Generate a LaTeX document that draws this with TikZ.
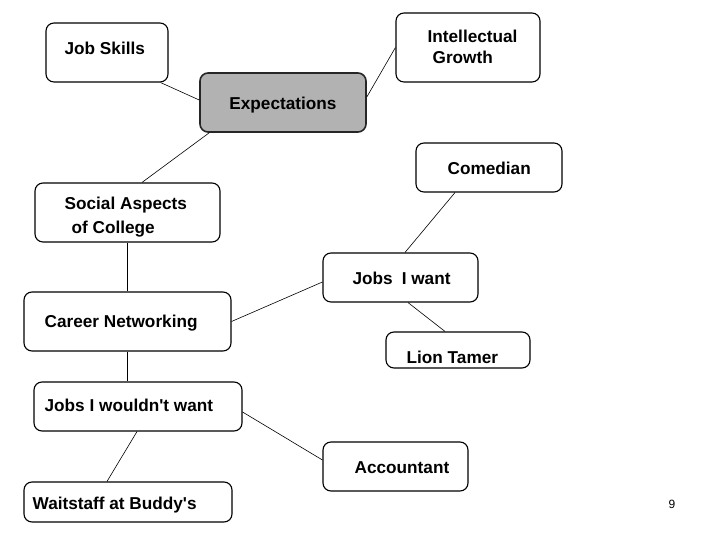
\documentclass[tikz,border=0pt]{standalone}
\usepackage{fontspec}
\setmainfont{Liberation Sans}
\usetikzlibrary{calc}
\begin{document}
\begin{tikzpicture}[x=1pt,y=1pt,
  box/.style={draw=black, line width=1.1pt, rounded corners=8pt, fill=white, inner sep=0pt},
  txt/.style={anchor=west, inner sep=0pt, align=left, font=\fontsize{17.2}{21}\selectfont\bfseries},
  link/.style={draw=black, line width=0.6pt}]
\useasboundingbox (0,0) rectangle (720,540);
% boxes (centre, width, height)
\node[box, minimum width=122, minimum height=59,
  label={[txt,xshift=19,yshift=4.5]west:Job Skills}] (js) at (107,487.5) {};
\node[box, minimum width=144, minimum height=69,
  label={[txt,xshift=32,yshift=1]west:Intellectual\\\hspace{5pt}Growth}] (ig) at (468,492.5) {};
\node[box, fill=gray!60, draw=black!85, line width=1.6pt, minimum width=166, minimum height=59,
  label={[txt,xshift=30,yshift=-2.5]west:Expectations}] (ex) at (283,437.5) {};
\node[box, minimum width=185, minimum height=59,
  label={[txt,xshift=30,yshift=-5]west:Social Aspects\\[3pt]\hspace{7pt}of College}] (sa) at (127.5,327.5) {};
\node[box, minimum width=146, minimum height=49,
  label={[txt,xshift=32,yshift=-0.5]west:Comedian}] (co) at (489,372.5) {};
\node[box, minimum width=155, minimum height=49,
  label={[txt,xshift=30,yshift=-0.5]west:Jobs\hspace{9pt}I want}] (jw) at (400.5,262.5) {};
\node[box, minimum width=144, minimum height=36,
  label={[txt,xshift=21,yshift=-7]west:Lion Tamer}] (lt) at (458,190) {};
\node[box, minimum width=207, minimum height=59,
  label={[txt,xshift=21,yshift=-1.5]west:Career Networking}] (cn) at (127.5,218.5) {};
\node[box, minimum width=208, minimum height=49,
  label={[txt,xshift=11,yshift=1.5]west:Jobs I wouldn\textquotesingle t want}] (jn) at (138,133.5) {};
\node[box, minimum width=145, minimum height=49,
  label={[txt,xshift=32,yshift=-1.5]west:Accountant}] (ac) at (395.5,73.5) {};
\node[box, minimum width=208, minimum height=40,
  label={[txt,xshift=9,yshift=-3]west:Waitstaff at Buddy\textquotesingle s}] (wb) at (128,38) {};
\node[font=\fontsize{12}{14}\selectfont, inner sep=0pt] (pg) at (672,36) {9};
% connectors
\path[link] ($(js.south east)+(-8,0)$) -- ($(ex.west)+(0,2.5)$);
\path[link] (ig.west) -- ($(ex.east)+(0,5.5)$);
\path[link] ($(ex.south west)+(10,0)$) -- ($(sa.north)+(14.5,0)$);
\path[link] (sa.south) -- (cn.north);
\path[link] (cn.east) -- ($(jw.west)+(0,-4.5)$);
\path[link] ($(co.south)+(-34,0)$) -- ($(jw.north)+(4.5,0)$);
\path[link] ($(jw.south)+(7.5,0)$) -- ($(lt.north)+(-13,0)$);
\path[link] (cn.south) -- (cn.south |- jn.north);
\path[link] ($(jn.east)+(0,-5.5)$) -- ($(ac.west)+(0,6.5)$);
\path[link] ($(jn.south)+(-1,0)$) -- ($(wb.north)+(-21,0)$);
\end{tikzpicture}
\end{document}
